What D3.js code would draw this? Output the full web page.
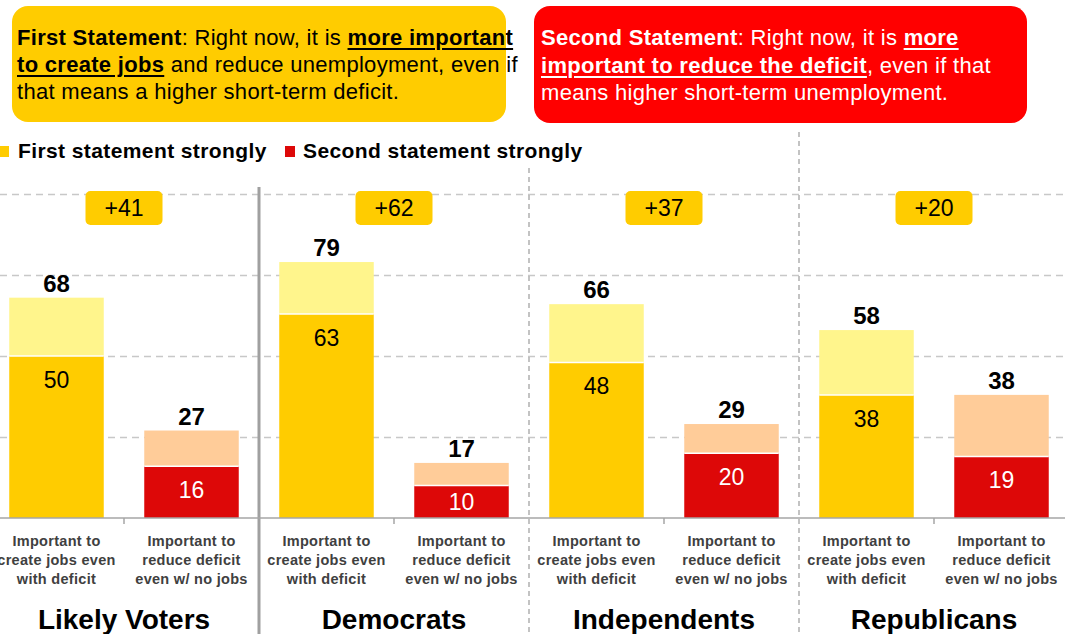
<!DOCTYPE html>
<html>
<head>
<meta charset="utf-8">
<script src="https://cdn.jsdelivr.net/npm/d3@7"></script>
<style>
body { margin: 0; background: #fff; overflow: hidden; font-family: Arial, "Liberation Sans", sans-serif; }
#chart { position: relative; width: 1065px; height: 634px; }
#chart svg { position: absolute; left: 0; top: 0; }
.stmt { position: absolute; box-sizing: border-box; border-radius: 16px; font-size: 22px; letter-spacing: 0.3px; white-space: nowrap; }
.stmt u { text-decoration-thickness: 2px; text-underline-offset: 3px; }
</style>
</head>
<body>
<div id="chart"></div>
<script>
// data
var groups = ['Likely Voters', 'Democrats', 'Independents', 'Republicans'];
var barLabels = [
    ['Important to', 'create jobs even', 'with deficit'],
    ['Important to', 'reduce deficit', 'even w/ no jobs']
];
var jobsStrong = [50, 63, 48, 38];
var jobsTotal = [68, 79, 66, 58];
var deficitStrong = [16, 10, 20, 19];
var deficitTotal = [27, 17, 29, 38];
var gridTicks = [25, 50, 75, 100];
var legendNames = ['First statement strongly', 'Second statement strongly'];

var W = 1065, H = 634;
var COLORS = {
    jobs: '#FFCC00', jobsLight: '#FFF58C',
    deficit: '#DD0808', deficitLight: '#FFCC99'
};

//每组两根柱
var rows = [];
groups.forEach(function (g, i) {
    rows.push({key: g + '|jobs', group: i, type: 0, strong: jobsStrong[i], total: jobsTotal[i]});
    rows.push({key: g + '|deficit', group: i, type: 1, strong: deficitStrong[i], total: deficitTotal[i]});
});

var chart = d3.select('#chart');

// statement boxes
chart.append('div')
    .attr('class', 'stmt')
    .attr('style', 'left:12px;top:6px;width:494px;height:116px;background:#FFCC00;color:#000;padding:18px 0 0 5px;line-height:27px;')
    .html('<b>First Statement</b>: Right now, it is <b><u>more important</u></b><br>' +
        '<b><u>to create jobs</u></b> and reduce unemployment, even if<br>' +
        'that means a higher short-term deficit.');
chart.append('div')
    .attr('class', 'stmt')
    .attr('style', 'left:534px;top:6px;width:493px;height:117px;background:#FF0000;color:#fff;padding:18px 0 0 7px;line-height:27.5px;')
    .html('<b>Second Statement</b>: Right now, it is <b><u>more</u></b><br>' +
        '<b><u>important to reduce the deficit</u></b>, even if that<br>' +
        'means higher short-term unemployment.');

var svg = chart.append('svg')
    .attr('width', W)
    .attr('height', H)
    .style('font-family', 'Arial, "Liberation Sans", sans-serif');

var x = d3.scaleBand()
    .domain(rows.map(d => d.key))
    .range([-11, 1069])
    .paddingInner(0.3)
    .paddingOuter(0.15);
var y = d3.scaleLinear().domain([0, 100]).range([518, 194]);
var bw = x.bandwidth();
var step = x.step();

// gridlines
var grid = svg.append('g')
    .attr('class', 'grid')
    .call(d3.axisLeft(y).tickValues(gridTicks).tickSize(-W).tickFormat(''));
grid.select('.domain').remove();
grid.selectAll('line')
    .attr('stroke', '#c8c8c8')
    .attr('stroke-width', 1.5)
    .attr('stroke-dasharray', '7,5');

// group separators
var sepTop = [187, 168, 132];
groups.slice(1).forEach(function (g, i) {
    var sx = x(g + '|jobs') - (step - bw) / 2;
    svg.append('line')
        .attr('x1', sx).attr('x2', sx)
        .attr('y1', sepTop[i]).attr('y2', H)
        .attr('stroke', i === 0 ? '#a0a0a0' : '#b0b0b0')
        .attr('stroke-width', i === 0 ? 3 : 1.5)
        .attr('stroke-dasharray', i === 0 ? null : '5,4');
});

// bars
var bars = svg.append('g').selectAll('g.bar')
    .data(rows)
    .enter()
    .append('g')
    .attr('class', 'bar');
bars.append('rect')
    .attr('x', d => x(d.key))
    .attr('width', bw)
    .attr('y', d => y(d.total))
    .attr('height', d => y(d.strong) - y(d.total))
    .attr('fill', d => d.type ? COLORS.deficitLight : COLORS.jobsLight);
bars.append('rect')
    .attr('x', d => x(d.key))
    .attr('width', bw)
    .attr('y', d => y(d.strong))
    .attr('height', d => y(0) - y(d.strong))
    .attr('fill', d => d.type ? COLORS.deficit : COLORS.jobs);
bars.append('line')
    .attr('x1', d => x(d.key)).attr('x2', d => x(d.key) + bw)
    .attr('y1', d => y(d.strong)).attr('y2', d => y(d.strong))
    .attr('stroke', '#fff')
    .attr('stroke-width', 1.5);
bars.append('text')
    .attr('x', d => x(d.key) + bw / 2)
    .attr('y', d => y(d.total) - 6)
    .attr('text-anchor', 'middle')
    .attr('font-size', 24)
    .attr('font-weight', 'bold')
    .text(d => d.total);
bars.append('text')
    .attr('x', d => x(d.key) + bw / 2)
    .attr('y', d => Math.min(y(d.strong) + 32, (y(d.strong) + y(0)) / 2 + 8))
    .attr('text-anchor', 'middle')
    .attr('font-size', 23)
    .attr('fill', d => d.type ? '#fff' : '#000')
    .text(d => d.strong);

// baseline + ticks
svg.append('line')
    .attr('x1', 0).attr('x2', W)
    .attr('y1', y(0)).attr('y2', y(0))
    .attr('stroke', '#a6a6a6')
    .attr('stroke-width', 1.5);

var centers = groups.map(g => x(g + '|deficit') - (step - bw) / 2);
svg.append('g').selectAll('line')
    .data(centers)
    .enter()
    .append('line')
    .attr('x1', d => d).attr('x2', d => d)
    .attr('y1', y(0)).attr('y2', y(0) + 6)
    .attr('stroke', '#a6a6a6')
    .attr('stroke-width', 1.5);

// category labels
rows.forEach(function (d) {
    var t = svg.append('text')
        .attr('text-anchor', 'middle')
        .attr('font-size', 14.5)
        .attr('font-weight', 'bold')
        .attr('letter-spacing', 0.3)
        .attr('fill', '#404040');
    barLabels[d.type].forEach(function (line, j) {
        t.append('tspan')
            .attr('x', x(d.key) + bw / 2)
            .attr('y', 546 + j * 19)
            .text(line);
    });
});

// group labels
svg.append('g').selectAll('text')
    .data(groups)
    .enter()
    .append('text')
    .attr('x', (d, i) => centers[i])
    .attr('y', 629)
    .attr('text-anchor', 'middle')
    .attr('font-size', 28)
    .attr('font-weight', 'bold')
    .text(d => d);

// net badges
var badges = svg.append('g').selectAll('g')
    .data(groups)
    .enter()
    .append('g');
badges.append('rect')
    .attr('x', (d, i) => centers[i] - 38.5)
    .attr('y', 191)
    .attr('width', 77)
    .attr('height', 34)
    .attr('rx', 5)
    .attr('fill', COLORS.jobs);
badges.append('text')
    .attr('x', (d, i) => centers[i])
    .attr('y', 216)
    .attr('text-anchor', 'middle')
    .attr('font-size', 23)
    .text((d, i) => '+' + (jobsTotal[i] - deficitTotal[i]));

// legend
var legend = svg.append('g');
var legendX = [[-1, 18], [285, 303]];
legendNames.forEach(function (name, i) {
    legend.append('rect')
        .attr('x', legendX[i][0])
        .attr('y', 146)
        .attr('width', 10)
        .attr('height', 11)
        .attr('fill', i ? COLORS.deficit : COLORS.jobs);
    legend.append('text')
        .attr('x', legendX[i][1])
        .attr('y', 158)
        .attr('font-size', 21)
        .attr('font-weight', 'bold')
        .attr('letter-spacing', 0.4)
        .text(name);
});
</script>
</body>
</html>
